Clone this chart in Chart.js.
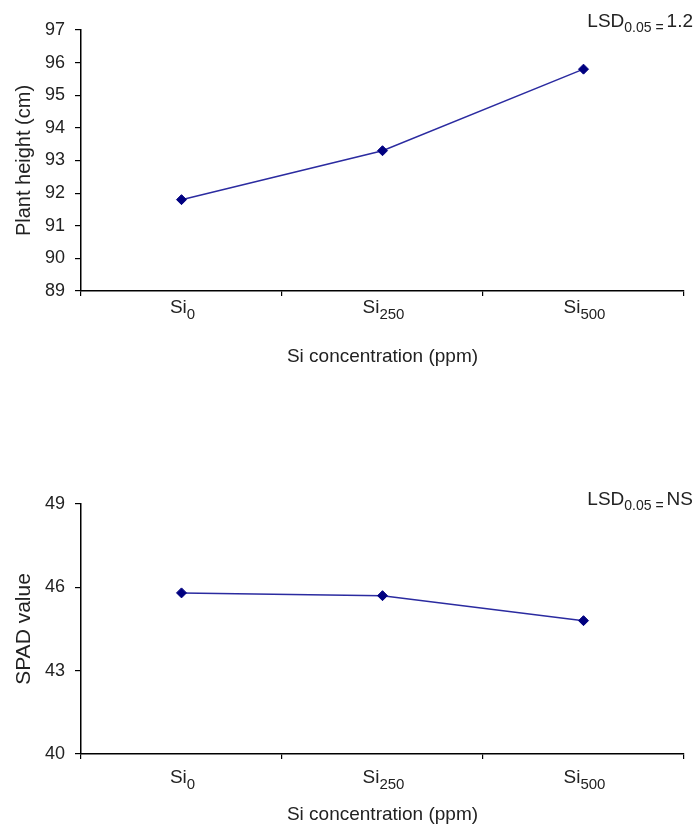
<!DOCTYPE html>
<html>
<head>
<meta charset="utf-8">
<script src="https://cdn.jsdelivr.net/npm/chart.js@4.4.1/dist/chart.umd.min.js"></script>
<style>
  html, body { margin: 0; padding: 0; background: #fff; }
  body { width: 698px; height: 828px; position: relative; overflow: hidden; }
  .box { position: absolute; left: 0; width: 698px; }
  #box1 { top: 0; height: 380px; }
  #box2 { top: 440px; height: 388px; }
</style>
</head>
<body>
<div class="box" id="box1"><canvas id="c1" width="698" height="380"></canvas></div>
<div class="box" id="box2"><canvas id="c2" width="698" height="388"></canvas></div>
<script>
// ---- data ----
const categoryBase = 'Si';
const categorySubs = ['0', '250', '500'];
const categories = categorySubs.map(s => categoryBase + s);
const plantHeight = [91.8, 93.3, 95.8];
const spadValue = [45.8, 45.7, 44.8];
const heightTickRange = [89, 97, 1];   // min, max, step
const spadTickRange = [40, 49, 3];     // min, max, step
const xTitle = 'Si concentration (ppm)';
const heightTitle = 'Plant height (cm)';
const spadTitle = 'SPAD value';
const lsdHeight = ['LSD', '0.05 =', '1.2'];
const lsdSpad = ['LSD', '0.05 =', 'NS'];

const FONT = "'Liberation Sans', Arial, sans-serif";
const TEXT = '#222';

// category labels with real subscripts, placed at the x scale's tick positions
const subLabelPlugin = {
  id: 'subLabels',
  afterDraw(chart, args, opts) {
    const ctx = chart.ctx, xs = chart.scales.x;
    const big = '19px ' + FONT, small = '15px ' + FONT;
    const y = xs.top + opts.baseOffset;
    ctx.save();
    ctx.fillStyle = TEXT;
    ctx.textBaseline = 'alphabetic';
    ctx.textAlign = 'left';
    xs.ticks.forEach((t, i) => {
      const x = xs.getPixelForTick(i);
      ctx.font = big; const w1 = ctx.measureText(categoryBase).width;
      ctx.font = small; const w2 = ctx.measureText(categorySubs[i]).width;
      const x0 = x - (w1 + w2) / 2 + 1;
      ctx.font = big; ctx.fillText(categoryBase, x0, y);
      ctx.font = small; ctx.fillText(categorySubs[i], x0 + w1, y + 6);
    });
    ctx.restore();
  }
};

const lsdPlugin = {
  id: 'lsd',
  afterDraw(chart, args, opts) {
    const parts = opts.parts, baseY = opts.y;
    const ctx = chart.ctx;
    ctx.save();
    ctx.fillStyle = TEXT;
    ctx.textBaseline = 'alphabetic';
    ctx.textAlign = 'left';
    const big = '19px ' + FONT, small = '14px ' + FONT;
    ctx.font = big; const w1 = ctx.measureText(parts[0]).width;
    ctx.font = small; const w2 = ctx.measureText(parts[1]).width;
    ctx.font = big; const w3 = ctx.measureText(parts[2]).width;
    const right = chart.width - 5;
    let x = right - (w1 + w2 + 3 + w3);
    ctx.font = big; ctx.fillText(parts[0], x, baseY); x += w1;
    ctx.font = small; ctx.fillText(parts[1], x, baseY + 5); x += w2 + 3;
    ctx.font = big; ctx.fillText(parts[2], x, baseY);
    ctx.restore();
  }
};

function makeChart(id, values, range, yTitle, opts) {
  return new Chart(document.getElementById(id), {
    type: 'line',
    data: {
      labels: categories,
      datasets: [{
        data: values,
        borderColor: '#2b2ba0',
        borderWidth: 1.5,
        pointStyle: 'rectRot',
        pointRadius: 5,
        pointBackgroundColor: '#000080',
        pointBorderColor: '#000080',
        pointBorderWidth: 1,
        tension: 0,
        fill: false
      }]
    },
    options: {
      responsive: false,
      animation: false,
      layout: { padding: { top: opts.padTop, right: 14, left: 0, bottom: 0 } },
      plugins: {
        legend: { display: false },
        tooltip: { enabled: false },
        subLabels: { baseOffset: opts.labelBase },
        lsd: { parts: opts.lsd, y: opts.lsdY }
      },
      scales: {
        x: {
          type: 'category',
          offset: true,
          afterFit(s) { s.height = opts.xHeight; },
          grid: { offset: true, drawOnChartArea: false, drawTicks: true, tickLength: 5, color: '#000', lineWidth: 1.2 },
          border: { display: true, color: '#000', width: 1.5 },
          ticks: { display: false },
          title: { display: true, text: xTitle, color: TEXT, font: { family: FONT, size: 19 }, padding: { top: 0, bottom: opts.xTitlePad } }
        },
        y: {
          min: range[0], max: range[1],
          afterFit(s) { s.width = 81; },
          grid: { drawOnChartArea: false, drawTicks: true, tickLength: 6, color: '#000', lineWidth: 1.2 },
          border: { display: true, color: '#000', width: 1.5 },
          ticks: { stepSize: range[2], color: TEXT, font: { family: FONT, size: 18 }, padding: 10 },
          title: { display: true, text: yTitle, color: TEXT, font: { family: FONT, size: opts.yTitleSize }, padding: { top: 12, bottom: 0 } }
        }
      }
    },
    plugins: [subLabelPlugin, lsdPlugin]
  });
}

makeChart('c1', plantHeight, heightTickRange, heightTitle,
  { padTop: 30, xHeight: 89, labelBase: 22, xTitlePad: 12, lsd: lsdHeight, lsdY: 27, yTitleSize: 20 });
makeChart('c2', spadValue, spadTickRange, spadTitle,
  { padTop: 64, xHeight: 74, labelBase: 29, xTitlePad: 2, lsd: lsdSpad, lsdY: 65, yTitleSize: 21 });
</script>
</body>
</html>
